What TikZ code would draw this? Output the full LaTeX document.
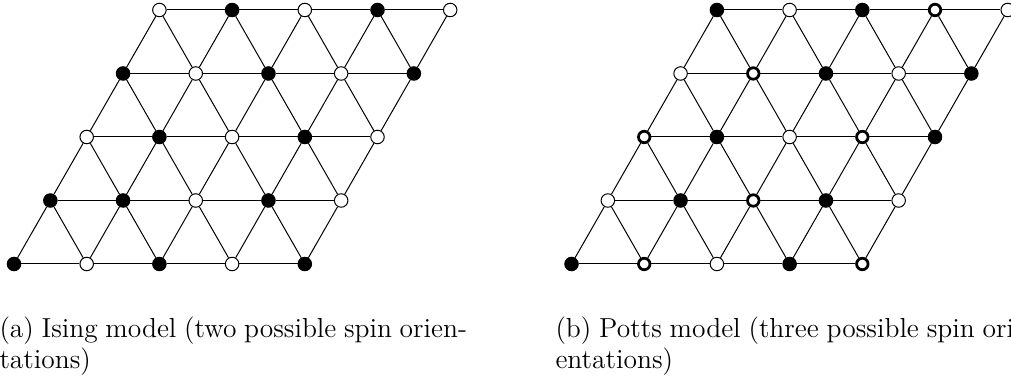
\documentclass[tikz,border=0pt]{standalone}
\tikzset{
  spin/.style={circle,draw=black,line width=0.4pt,inner sep=0pt,minimum size=5.4pt},
  spinb/.style={spin,fill=black},
  spinw/.style={spin,fill=white},
  spint/.style={circle,draw=black,line width=1.1pt,inner sep=0pt,minimum size=4.6pt,fill=white},
  bond/.style={draw=black,line width=0.4pt},
  capt/.style={anchor=north west,inner sep=0pt,text width=187pt,align=justify,font=\fontsize{11}{12.6}\selectfont}
}
\begin{document}
\begin{tikzpicture}[x=0.4pt,y=0.4pt]
\useasboundingbox (0,0) rectangle (1011,-378);
% lattices
\foreach \pre/\xo/\rows in {
  L/14/{{b,w,b,w,b},{b,b,w,b,w},{w,b,w,b,w},{b,w,b,w,b},{w,b,w,b,w}},
  R/571.5/{{b,t,w,b,t},{w,b,t,b,w},{t,b,w,t,b},{w,t,b,w,b},{b,w,b,t,w}}} {
  \foreach \row [count=\jj from 0] in \rows {
    \foreach \s [count=\ii from 0] in \row {
      \node[spin\s] (\pre-\ii-\jj) at ({\xo+72.7*\ii+36.35*\jj},{-264+63.5*\jj}) {};
    }
  }
  \foreach \j in {0,...,4} {
    \foreach \i [evaluate=\i as \n using int(\i+1)] in {0,...,3} {
      \path[bond] (\pre-\i-\j) -- (\pre-\n-\j);
    }
  }
  \foreach \i in {0,...,4} {
    \foreach \j [evaluate=\j as \m using int(\j+1)] in {0,...,3} {
      \path[bond] (\pre-\i-\j) -- (\pre-\i-\m);
    }
  }
  \foreach \i [evaluate=\i as \n using int(\i+1)] in {0,...,3} {
    \foreach \j [evaluate=\j as \m using int(\j+1)] in {0,...,3} {
      \path[bond] (\pre-\n-\j) -- (\pre-\i-\m);
    }
  }
}
% captions
\node[capt] (capa) at (-1,-316) {(a) Ising model (two possible spin orien-\linebreak tations)};
\node[capt] (capb) at (555,-316) {(b) Potts model (three possible spin ori-\linebreak entations)};
\end{tikzpicture}
\end{document}
